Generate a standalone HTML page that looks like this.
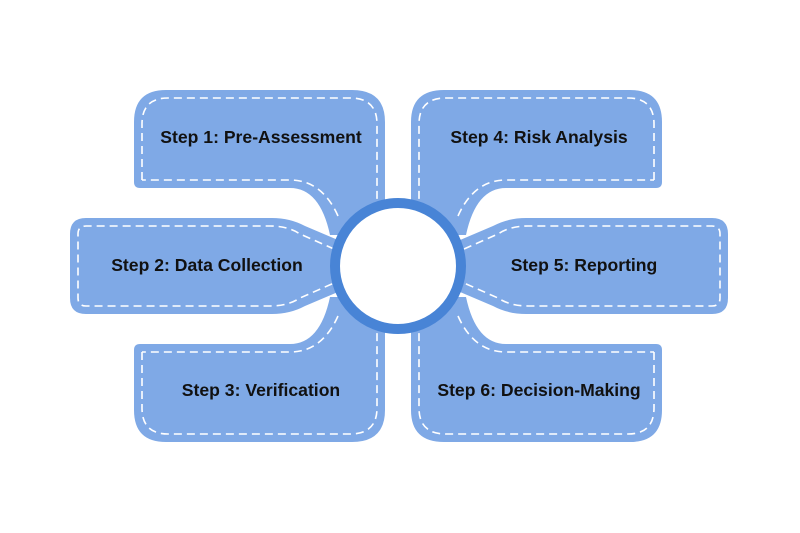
<!DOCTYPE html>
<html><head><meta charset="utf-8"><style>
html,body{margin:0;padding:0;background:#fff;width:800px;height:533px;overflow:hidden}
text{font-family:"Liberation Sans",Arial,sans-serif;font-weight:bold;font-size:17.6px;fill:#111}
</style></head><body>
<svg width="800" height="533" viewBox="0 0 800 533" xmlns="http://www.w3.org/2000/svg">
<defs>
<g id="top">
<path d="M134,182 L134,122 Q134,90 166,90 L352,90 Q385,90 385,122 L385,235 L330,235 Q320,188 290,188 L140,188 Q134,188 134,182 Z" fill="#7fa9e6"/>
<path d="M142,180 L142,124 Q142,98 168,98 L350,98 Q377,98 377,124 L377,212 M338,216 Q322,180 290,180 L142,180" fill="none" stroke="#fff" stroke-width="1.6" stroke-dasharray="8,5"/>
</g>
<g id="mid">
<path d="M70,234 Q70,218 86,218 L272,218 Q290,218 305,226 L345,243 L345,289 L305,306 Q290,314 272,314 L86,314 Q70,314 70,298 Z" fill="#7fa9e6"/>
<path d="M334,249 L300,234 Q288,226 270,226 L86,226 Q78,226 78,234 L78,298 Q78,306 86,306 L270,306 Q288,306 300,298 L334,283" fill="none" stroke="#fff" stroke-width="1.6" stroke-dasharray="8,5"/>
</g>
</defs>
<use href="#top"/>
<use href="#top" transform="translate(796,0) scale(-1,1)"/>
<use href="#top" transform="translate(0,532) scale(1,-1)"/>
<use href="#top" transform="translate(796,532) scale(-1,-1)"/>
<use href="#mid"/>
<use href="#mid" transform="translate(798,0) scale(-1,1)"/>
<circle cx="398" cy="266" r="63" fill="#fff" stroke="#4884d6" stroke-width="10"/>
<text x="261" y="143" text-anchor="middle">Step 1: Pre-Assessment</text>
<text x="207" y="271" text-anchor="middle">Step 2: Data Collection</text>
<text x="261" y="396" text-anchor="middle">Step 3: Verification</text>
<text x="539" y="143" text-anchor="middle">Step 4: Risk Analysis</text>
<text x="584" y="271" text-anchor="middle">Step 5: Reporting</text>
<text x="539" y="396" text-anchor="middle">Step 6: Decision-Making</text>
</svg>
</body></html>
